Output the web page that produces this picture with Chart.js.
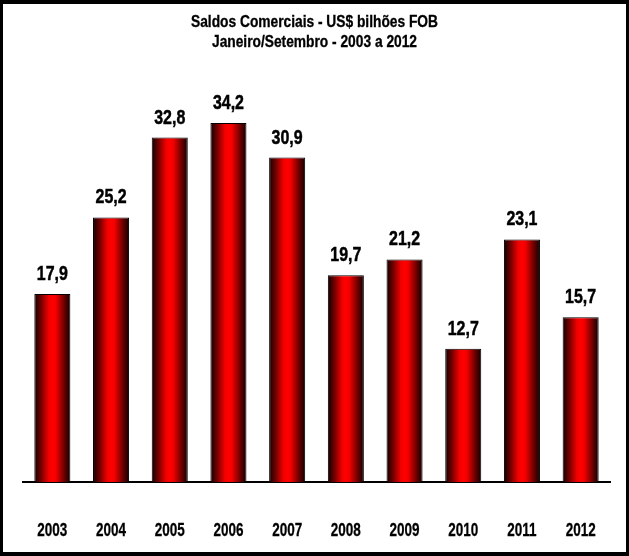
<!DOCTYPE html>
<html>
<head>
<meta charset="utf-8">
<script src="https://cdn.jsdelivr.net/npm/chart.js@4/dist/chart.umd.min.js"></script>
<style>
  html, body { margin: 0; padding: 0; background: #fff; }
  canvas { display: block; }
</style>
</head>
<body>
<canvas id="saldosChart" width="629" height="556"></canvas>
<script>
var anos = ["2003", "2004", "2005", "2006", "2007", "2008", "2009", "2010", "2011", "2012"];
var saldos = [17.9, 25.2, 32.8, 34.2, 30.9, 19.7, 21.2, 12.7, 23.1, 15.7];
var titulo = ["Saldos Comerciais - US$ bilhões FOB", "Janeiro/Setembro - 2003 a 2012"];

var fonte = "'Liberation Sans', Arial, sans-serif";
var larguraBarra = 0.614;

// gradiente horizontal: bordas escuras, centro vermelho vivo
function gradienteBarra(c) {
    var chart = c.chart;
    var area = chart.chartArea;
    if (!area || !chart.scales.x) return "#ff0000";
    var x = chart.scales.x.getPixelForValue(c.dataIndex);
    var w = (area.right - area.left) / anos.length * larguraBarra;
    var g = chart.ctx.createLinearGradient(x - w / 2, 0, x + w / 2, 0);
    g.addColorStop(0, "#100000");
    g.addColorStop(0.17, "#6a0000");
    g.addColorStop(0.4, "#f20000");
    g.addColorStop(0.5, "#ff0000");
    g.addColorStop(0.6, "#f20000");
    g.addColorStop(0.83, "#6a0000");
    g.addColorStop(1, "#100000");
    return g;
}

// texto "estreito" (simula Arial Narrow) com escala horizontal
function textoEstreito(ctx, txt, x, y, size, sx, grosso) {
    ctx.save();
    ctx.translate(x, y);
    ctx.scale(sx, 1);
    ctx.font = "bold " + size + "px " + fonte;
    ctx.fillStyle = "#000";
    ctx.strokeStyle = "#000";
    ctx.lineWidth = grosso;
    ctx.textAlign = "center";
    ctx.textBaseline = "alphabetic";
    ctx.fillText(txt, 0, 0);
    if (grosso > 0) ctx.strokeText(txt, 0, 0);
    ctx.restore();
}

var moldura = {
    id: "moldura",
    beforeDraw: function (chart) {
        var ctx = chart.ctx;
        ctx.save();
        ctx.fillStyle = "#fff";
        ctx.fillRect(0, 0, chart.width, chart.height);
        ctx.fillStyle = "#000";
        ctx.fillRect(0, 0, chart.width, 4);
        ctx.fillRect(0, chart.height - 4, chart.width, 4);
        ctx.fillRect(0, 0, 3, chart.height);
        ctx.fillRect(chart.width - 3, 0, 3, chart.height);
        ctx.restore();
    }
};

var textos = {
    id: "textos",
    afterDraw: function (chart) {
        var ctx = chart.ctx;
        var meta = chart.getDatasetMeta(0);
        var cx = chart.width / 2;
        textoEstreito(ctx, titulo[0], cx, 27, 16, 0.86, 0.3);
        textoEstreito(ctx, titulo[1], cx, 47, 16, 0.86, 0.3);
        meta.data.forEach(function (bar, i) {
            textoEstreito(ctx, saldos[i].toFixed(1).replace(".", ","), bar.x, bar.y - 14, 21, 0.76, 0.5);
        });
        var xs = chart.scales.x;
        anos.forEach(function (a, i) {
            textoEstreito(ctx, a, xs.getPixelForValue(i), 536, 19, 0.71, 0.3);
        });
    }
};

var ctx1 = document.getElementById("saldosChart").getContext("2d");
var saldosChart = new Chart(ctx1,
    {
        type: "bar",
        data: {
            labels: anos,
            datasets: [
                {
                    label: "Saldo",
                    data: saldos,
                    backgroundColor: gradienteBarra,
                    borderColor: "#000",
                    borderWidth: 1,
                    categoryPercentage: 1,
                    barPercentage: larguraBarra
                }
            ]
        },
        plugins: [moldura, textos],
        options: {
            responsive: false,
            animation: false,
            layout: {
                padding: { left: 23, right: 19, top: 62, bottom: 0 }
            },
            plugins: {
                legend: { display: false },
                tooltip: { enabled: false },
                title: { display: false }
            },
            scales: {
                x: {
                    grid: { display: false, drawTicks: false },
                    border: { display: true, color: "#000", width: 2 },
                    ticks: { display: false },
                    afterFit: function (scale) { scale.height = 74; }
                },
                y: {
                    display: false,
                    min: 0,
                    max: 40
                }
            }
        }
    });
</script>
</body>
</html>
